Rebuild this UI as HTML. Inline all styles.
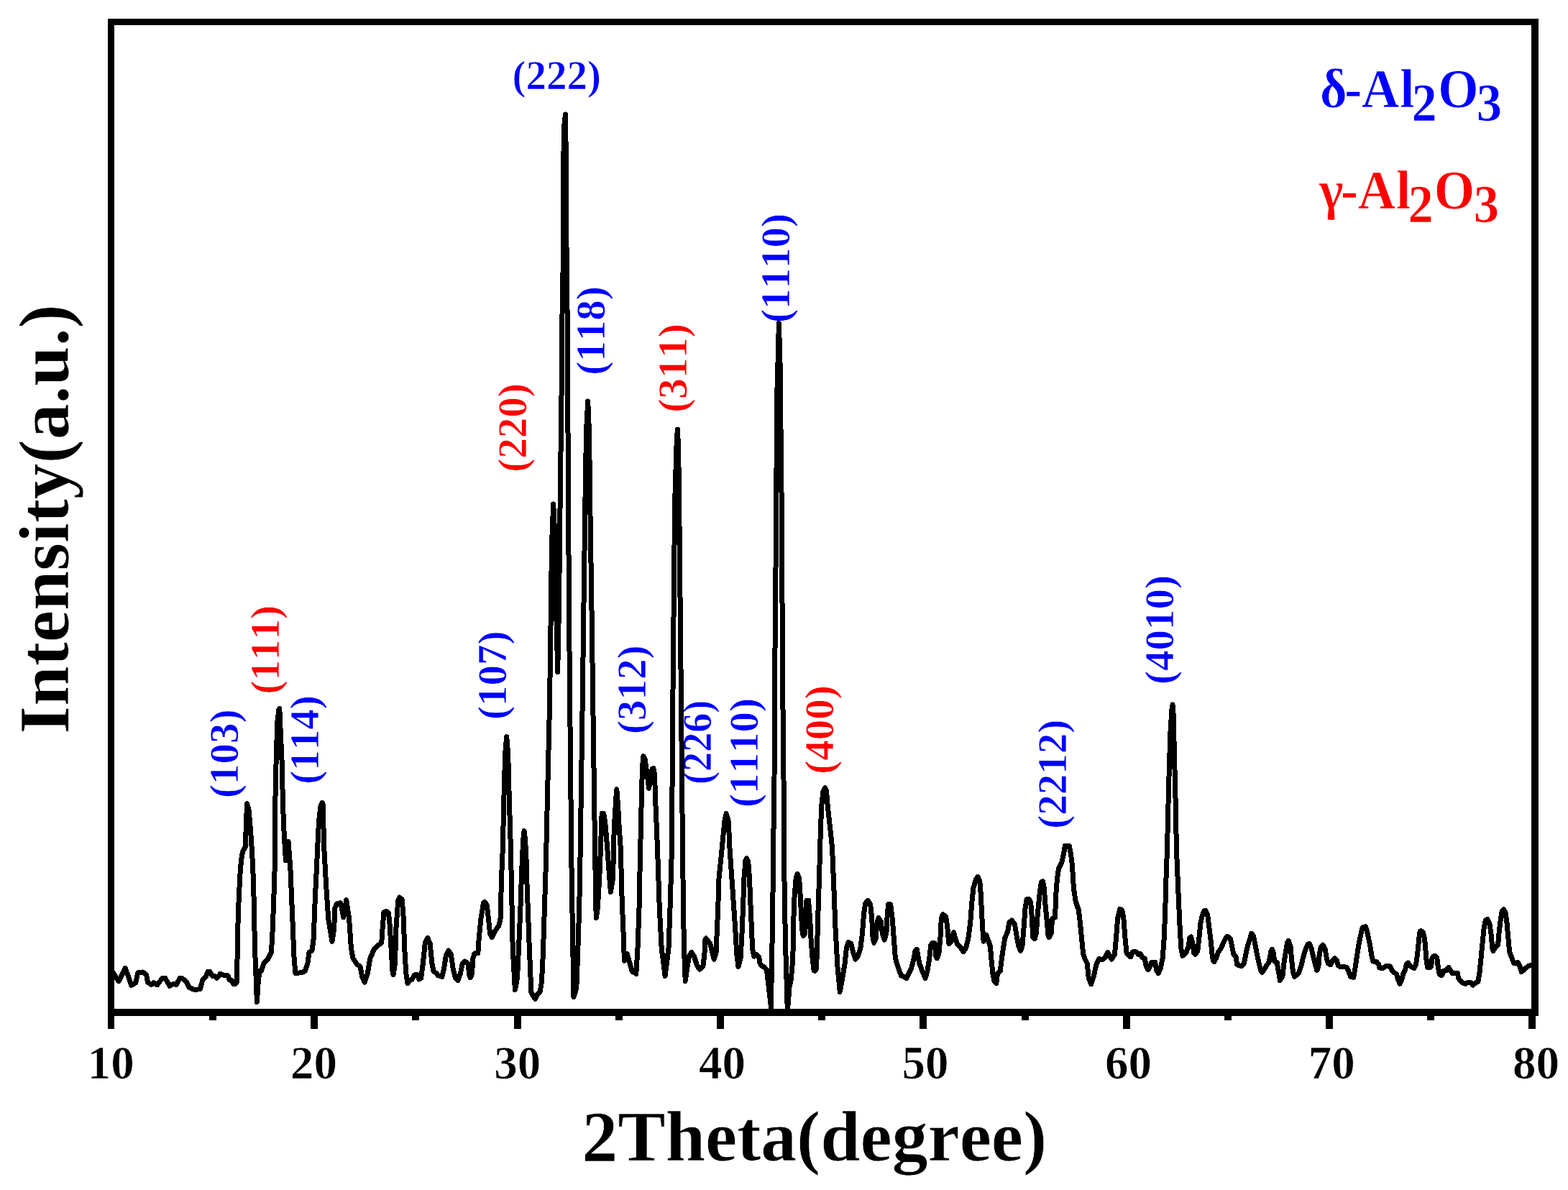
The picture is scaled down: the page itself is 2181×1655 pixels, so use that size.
<!DOCTYPE html>
<html lang="en">
<head>
<meta charset="utf-8">
<title>XRD pattern</title>
<style>
html,body{margin:0;padding:0;background:#fff;}
body{width:2181px;height:1655px;overflow:hidden;}
svg{display:block;}
text{font-family:"Liberation Serif","DejaVu Serif",serif;font-weight:bold;font-kerning:none;font-variant-ligatures:none;stroke:#fff;stroke-width:0.7px;stroke-linejoin:miter;}
.pk{font-size:57px;letter-spacing:0;}
.tk{font-size:65px;fill:#000;}
.ax{font-size:99.5px;fill:#000;}
.lg{font-size:75.5px;}
.sb{font-size:73.5px;}
</style>
</head>
<body>
<svg width="2181" height="1655" viewBox="0 0 2181 1655">
<rect x="0" y="0" width="2181" height="1655" fill="#fff"/>
<defs><clipPath id="plot"><rect x="150" y="26" width="1990" height="1387"/></clipPath></defs>
<g id="labels">
<text class="pk" fill="#0000ff" transform="translate(330.7,1110.0) rotate(-90)">(103)</text>
<text class="pk" fill="#ff0000" transform="translate(387.8,965.5) rotate(-90)">(111)</text>
<text class="pk" fill="#0000ff" transform="translate(442.5,1090.7) rotate(-90)">(114)</text>
<text class="pk" fill="#0000ff" transform="translate(704.0,1000.9) rotate(-90)">(107)</text>
<text class="pk" fill="#ff0000" transform="translate(731.9,656.8) rotate(-90)">(220)</text>
<text class="pk" fill="#0000ff" transform="translate(840.7,521.7) rotate(-90)">(118)</text>
<text class="pk" fill="#0000ff" transform="translate(897.5,1021.1) rotate(-90)">(312)</text>
<text class="pk" fill="#ff0000" transform="translate(954.7,573.8) rotate(-90)">(311)</text>
<text class="pk" fill="#0000ff" transform="translate(988.6,1090.9) rotate(-90) scale(0.949,1)">(226)</text>
<text class="pk" fill="#0000ff" transform="translate(1053.5,1122.9) rotate(-90)">(1110)</text>
<text class="pk" fill="#0000ff" transform="translate(1098.4,449.0) rotate(-90)">(1110)</text>
<text class="pk" fill="#ff0000" transform="translate(1158.7,1076.8) rotate(-90)">(400)</text>
<text class="pk" fill="#0000ff" transform="translate(1483.4,1152.8) rotate(-90)">(2212)</text>
<text class="pk" fill="#0000ff" transform="translate(1631.5,952.0) rotate(-90)">(4010)</text>
<text class="pk" fill="#0000ff" x="712.6" y="124.3">(222)</text>
</g>
<path id="xrd" clip-path="url(#plot)" d="M154.7,1348.8 L165.0,1364.7 L174.3,1346.2 L182.7,1370.4 L188.9,1366.5 L191.7,1352.7 L198.6,1352.0 L203.5,1355.4 L205.6,1366.5 L210.7,1369.4 L213.9,1366.6 L218.5,1369.7 L225.7,1360.6 L229.9,1360.6 L236.1,1371.3 L240.3,1368.6 L245.2,1369.4 L250.0,1360.6 L253.5,1360.6 L259.8,1366.2 L262.8,1373.1 L270.9,1376.6 L278.5,1375.5 L282.0,1362.3 L286.9,1357.2 L288.9,1351.6 L291.7,1351.3 L295.9,1357.9 L299.4,1357.9 L301.7,1360.4 L306.3,1354.4 L311.2,1356.2 L316.7,1356.5 L319.5,1363.1 L322.3,1363.4 L324.4,1368.3 L327.9,1368.3 L329.5,1364.8 L330.2,1323.1 L331.3,1270.3 L333.7,1218.9 L335.5,1196.7 L337.6,1184.2 L341.3,1177.5 L342.3,1148.5 L343.6,1117.5 L346.1,1127.0 L348.6,1156.0 L350.2,1180.0 L351.8,1207.8 L353.1,1249.5 L354.5,1318.9 L355.9,1353.7 L357.4,1393.6 L359.1,1367.6 L360.9,1350.6 L363.3,1350.6 L366.8,1339.8 L372.3,1334.2 L377.5,1323.8 L379.3,1291.2 L381.3,1235.6 L383.0,1180.0 L382.2,1148.5 L383.2,1097.8 L384.4,1047.0 L385.9,1003.5 L388.0,986.1 L388.8,985.4 L389.6,1003.5 L392.2,1061.5 L393.5,1119.5 L395.3,1163.0 L397.5,1197.0 L401.1,1170.6 L403.9,1207.8 L406.8,1277.3 L409.1,1332.8 L410.9,1353.7 L420.9,1352.3 L424.4,1350.2 L427.9,1339.8 L430.0,1324.5 L434.1,1321.7 L436.2,1305.1 L438.3,1249.5 L440.4,1207.8 L442.1,1170.3 L443.6,1141.3 L445.8,1122.4 L447.9,1116.6 L449.0,1117.4 L449.4,1134.0 L450.4,1163.0 L450.8,1180.0 L453.9,1235.6 L456.7,1277.3 L462.0,1309.2 L464.7,1291.2 L465.8,1263.4 L468.2,1257.1 L473.8,1255.7 L477.9,1275.9 L481.7,1251.6 L485.6,1277.3 L488.4,1318.9 L491.1,1332.8 L496.7,1341.2 L500.9,1344.0 L503.6,1357.9 L507.1,1366.2 L511.3,1353.7 L514.8,1332.8 L520.3,1320.3 L525.9,1314.8 L530.7,1311.3 L532.1,1291.2 L533.9,1268.9 L537.3,1267.3 L540.5,1269.6 L542.3,1288.4 L544.2,1321.7 L546.2,1353.7 L547.1,1355.8 L549.5,1339.8 L550.9,1291.2 L553.7,1252.3 L555.7,1248.1 L559.2,1250.9 L561.3,1277.3 L562.7,1318.9 L564.8,1353.7 L566.9,1367.6 L570.3,1363.4 L573.1,1362.0 L576.6,1355.8 L580.8,1355.8 L582.8,1362.0 L585.6,1360.6 L588.4,1339.8 L591.2,1312.0 L594.7,1304.4 L598.1,1312.0 L600.9,1339.8 L603.0,1350.9 L607.2,1353.7 L609.2,1356.5 L614.8,1358.5 L617.6,1346.7 L620.4,1328.7 L623.8,1322.0 L627.3,1327.3 L630.1,1346.7 L633.6,1360.6 L637.0,1363.4 L640.5,1353.7 L643.3,1339.8 L646.8,1337.0 L650.9,1339.8 L653.0,1356.5 L654.4,1359.7 L656.5,1353.7 L657.9,1332.8 L660.0,1325.9 L664.8,1325.9 L666.2,1305.1 L669.0,1277.3 L672.5,1255.7 L674.3,1254.3 L677.3,1259.2 L679.4,1277.3 L681.5,1298.1 L684.3,1303.7 L688.4,1295.3 L694.0,1287.0 L696.1,1277.3 L697.5,1221.7 L699.3,1180.0 L701.0,1106.7 L702.7,1048.0 L704.7,1024.6 L706.7,1048.0 L708.2,1106.7 L710.4,1180.0 L712.1,1263.4 L713.2,1319.0 L716.4,1376.6 L719.5,1360.6 L721.5,1319.0 L723.9,1263.4 L725.3,1221.7 L726.4,1195.0 L727.7,1168.0 L729.1,1155.6 L730.6,1168.0 L732.0,1195.0 L732.7,1221.7 L734.3,1263.4 L736.3,1319.0 L738.1,1360.6 L738.9,1380.0 L741.7,1385.6 L744.5,1389.1 L747.9,1382.2 L751.1,1379.4 L753.1,1367.6 L754.5,1346.7 L755.6,1319.0 L757.4,1263.4 L759.2,1207.8 L761.5,1106.7 L763.6,1018.7 L764.5,980.0 L765.9,879.4 L766.8,806.9 L767.7,752.5 L769.7,701.0 L771.3,734.4 L772.6,806.9 L774.4,879.4 L775.7,934.7 L777.5,843.0 L779.1,700.0 L781.4,520.0 L781.8,445.0 L782.9,400.0 L784.2,180.0 L786.5,159.0 L786.9,180.0 L788.4,400.0 L789.3,445.0 L789.6,520.0 L790.4,680.0 L791.6,861.0 L792.7,980.0 L794.9,1200.0 L795.9,1263.4 L796.8,1319.0 L798.0,1386.6 L801.8,1374.5 L803.9,1319.0 L805.7,1263.4 L806.9,1200.0 L810.3,970.0 L811.7,861.0 L813.2,752.5 L813.9,698.0 L815.5,600.0 L817.7,558.0 L819.5,600.0 L821.0,716.0 L823.2,861.0 L824.8,980.0 L827.7,1190.0 L828.5,1240.0 L829.2,1276.6 L831.3,1263.4 L833.7,1221.7 L835.5,1180.0 L836.4,1150.7 L837.2,1131.0 L839.2,1131.0 L840.7,1136.0 L842.4,1150.7 L844.8,1180.0 L847.3,1214.7 L849.4,1240.7 L852.6,1221.7 L853.5,1180.0 L854.3,1150.7 L856.1,1121.4 L857.5,1099.4 L857.8,1097.9 L859.7,1121.4 L861.2,1150.7 L863.3,1180.0 L865.1,1249.5 L867.4,1305.0 L868.4,1336.3 L872.3,1326.6 L879.2,1350.9 L884.8,1354.4 L887.0,1319.0 L889.0,1263.4 L890.1,1207.8 L891.4,1150.7 L892.7,1092.0 L893.9,1062.7 L894.9,1051.7 L897.1,1055.4 L900.1,1077.4 L902.7,1096.4 L905.2,1077.4 L907.4,1069.3 L908.9,1068.6 L910.6,1077.4 L911.4,1106.7 L913.3,1150.7 L914.5,1180.0 L917.3,1263.4 L920.2,1319.0 L925.1,1357.4 L930.0,1319.0 L932.0,1263.4 L933.7,1207.8 L934.4,1180.0 L936.0,960.0 L938.6,700.0 L941.0,620.0 L942.3,597.0 L943.6,620.0 L944.7,700.0 L947.3,960.0 L949.5,1180.0 L950.5,1263.4 L951.5,1319.0 L953.2,1364.4 L955.7,1346.7 L958.4,1330.0 L961.9,1324.5 L965.4,1330.0 L969.5,1342.6 L973.0,1348.1 L977.9,1344.0 L980.0,1325.9 L980.7,1307.8 L982.0,1305.0 L987.6,1312.0 L991.1,1325.9 L993.2,1334.2 L996.0,1325.9 L998.7,1263.4 L1000.0,1221.7 L1004.2,1180.0 L1006.0,1160.9 L1008.0,1140.7 L1010.1,1131.6 L1013.0,1140.7 L1014.2,1160.9 L1015.0,1180.0 L1018.9,1235.6 L1022.7,1291.2 L1024.7,1325.9 L1027.0,1344.4 L1030.0,1332.8 L1031.7,1305.1 L1033.5,1263.4 L1034.9,1221.7 L1037.0,1196.7 L1038.6,1193.5 L1040.7,1198.1 L1042.5,1221.7 L1044.2,1263.4 L1046.0,1305.1 L1047.0,1321.7 L1048.8,1330.1 L1052.3,1327.6 L1055.7,1331.5 L1057.1,1339.8 L1059.2,1343.3 L1063.4,1345.3 L1066.4,1348.8 L1068.6,1367.6 L1070.7,1385.6 L1072.5,1400.9 L1073.1,1360.6 L1073.9,1318.9 L1074.8,1263.4 L1075.6,1180.0 L1076.5,1120.5 L1077.0,1084.0 L1077.4,975.7 L1078.3,867.0 L1079.1,780.0 L1079.4,700.0 L1080.0,653.0 L1080.7,551.0 L1081.8,512.0 L1082.8,473.0 L1083.4,449.5 L1084.1,473.0 L1085.2,512.0 L1085.7,551.0 L1086.4,653.0 L1087.3,700.0 L1087.4,780.0 L1088.3,867.0 L1088.9,975.7 L1090.0,1084.0 L1090.5,1120.5 L1090.3,1180.0 L1091.6,1263.4 L1092.7,1318.9 L1094.4,1374.5 L1095.3,1405.1 L1096.6,1391.9 L1097.8,1374.0 L1100.3,1362.0 L1102.3,1339.8 L1103.2,1318.9 L1103.7,1299.5 L1103.9,1277.3 L1104.9,1249.5 L1107.1,1221.7 L1109.2,1215.4 L1111.7,1221.7 L1113.4,1249.5 L1114.8,1277.3 L1116.2,1298.1 L1117.6,1301.6 L1119.6,1298.1 L1121.0,1277.3 L1122.0,1252.3 L1124.5,1252.3 L1126.6,1277.3 L1128.0,1305.1 L1130.1,1332.8 L1132.1,1349.5 L1133.5,1350.6 L1135.6,1346.7 L1136.5,1318.9 L1138.1,1263.4 L1139.5,1221.7 L1140.6,1180.0 L1141.2,1160.9 L1142.7,1120.5 L1145.0,1100.3 L1147.6,1095.5 L1149.5,1100.3 L1151.2,1120.5 L1155.7,1160.9 L1157.6,1180.0 L1159.9,1235.6 L1162.0,1291.2 L1165.1,1346.7 L1168.3,1379.4 L1171.7,1360.6 L1175.2,1339.8 L1177.3,1318.9 L1180.1,1310.6 L1183.6,1312.0 L1187.0,1325.9 L1189.8,1334.2 L1193.3,1330.1 L1196.8,1318.9 L1199.5,1298.1 L1201.6,1270.3 L1203.7,1256.4 L1207.2,1252.3 L1210.7,1257.8 L1212.7,1277.3 L1214.1,1305.1 L1215.8,1311.3 L1218.3,1305.1 L1219.7,1284.2 L1222.0,1276.6 L1225.2,1281.4 L1227.3,1298.1 L1230.1,1307.1 L1232.9,1298.1 L1234.3,1270.3 L1235.7,1257.8 L1238.7,1257.8 L1241.2,1277.3 L1243.3,1305.1 L1245.4,1332.8 L1249.6,1346.7 L1253.7,1357.2 L1256.5,1357.9 L1260.7,1360.6 L1263.5,1355.1 L1267.6,1346.7 L1271.1,1332.8 L1273.2,1321.7 L1275.3,1320.3 L1278.8,1339.8 L1282.9,1350.9 L1287.1,1360.4 L1289.9,1350.9 L1292.7,1332.8 L1294.7,1314.8 L1296.8,1311.3 L1300.3,1312.0 L1301.7,1330.1 L1303.4,1332.8 L1305.9,1325.9 L1307.9,1305.1 L1309.3,1277.3 L1311.4,1271.7 L1315.6,1274.5 L1317.7,1288.4 L1319.1,1305.1 L1320.0,1312.7 L1323.2,1309.2 L1326.4,1296.7 L1328.8,1305.1 L1331.6,1313.4 L1335.7,1316.9 L1339.9,1323.8 L1343.4,1318.9 L1346.8,1305.1 L1349.6,1284.2 L1351.7,1256.4 L1353.8,1235.6 L1357.3,1223.1 L1360.3,1219.3 L1362.8,1225.9 L1364.2,1242.5 L1365.6,1270.3 L1366.7,1291.2 L1368.1,1309.2 L1371.9,1300.2 L1374.6,1307.8 L1377.4,1316.2 L1378.8,1332.8 L1380.9,1353.7 L1383.0,1364.8 L1385.7,1367.6 L1387.6,1353.7 L1391.3,1350.2 L1393.4,1332.8 L1395.5,1318.9 L1397.6,1305.1 L1401.7,1295.3 L1403.8,1282.8 L1407.3,1280.0 L1411.5,1285.6 L1414.2,1302.3 L1417.0,1316.2 L1419.5,1322.4 L1421.9,1316.2 L1424.0,1291.2 L1426.0,1263.4 L1428.1,1250.9 L1430.9,1250.2 L1433.7,1255.0 L1435.4,1277.3 L1436.7,1303.7 L1439.2,1305.7 L1441.3,1298.1 L1443.4,1270.3 L1446.2,1242.5 L1448.3,1227.2 L1450.4,1225.6 L1452.4,1235.6 L1453.8,1256.4 L1455.9,1277.3 L1458.0,1300.9 L1459.1,1303.7 L1462.2,1298.1 L1463.6,1277.3 L1467.7,1275.9 L1468.4,1249.5 L1470.5,1221.7 L1472.6,1207.8 L1476.8,1199.5 L1479.3,1188.3 L1479.8,1186.0 L1481.4,1176.2 L1487.3,1176.6 L1489.5,1188.0 L1491.4,1202.7 L1493.4,1235.6 L1496.2,1253.6 L1500.4,1266.1 L1502.5,1284.2 L1504.5,1305.1 L1506.6,1325.9 L1508.7,1332.8 L1512.2,1339.8 L1514.3,1360.6 L1517.7,1368.7 L1521.2,1357.9 L1525.4,1339.8 L1528.9,1333.5 L1533.0,1334.9 L1537.2,1331.5 L1540.7,1324.5 L1543.5,1330.1 L1546.2,1334.2 L1550.4,1327.3 L1552.5,1305.1 L1554.6,1277.3 L1557.8,1264.3 L1560.8,1266.1 L1562.9,1277.3 L1565.0,1305.1 L1567.1,1325.9 L1569.9,1328.7 L1572.7,1330.8 L1575.4,1323.8 L1580.3,1323.8 L1583.1,1327.3 L1586.5,1326.6 L1588.6,1331.5 L1592.1,1332.8 L1594.2,1344.0 L1597.0,1348.8 L1599.7,1344.0 L1601.8,1338.4 L1606.7,1338.4 L1608.8,1349.5 L1611.1,1353.7 L1614.3,1346.7 L1617.1,1332.8 L1619.2,1305.1 L1620.6,1270.3 L1622.0,1221.7 L1623.5,1180.0 L1625.5,1097.1 L1627.9,1018.6 L1629.9,987.1 L1631.0,980.0 L1631.9,987.1 L1633.5,1050.0 L1635.1,1112.8 L1636.4,1180.0 L1638.7,1235.6 L1641.2,1291.2 L1642.8,1318.9 L1644.9,1329.4 L1649.8,1324.5 L1653.2,1316.2 L1654.6,1305.1 L1656.7,1303.0 L1658.8,1312.0 L1660.9,1325.9 L1662.3,1327.3 L1665.7,1323.1 L1667.8,1305.1 L1669.9,1284.2 L1672.0,1274.5 L1674.8,1266.8 L1676.9,1266.1 L1679.6,1271.7 L1681.7,1288.4 L1683.8,1305.1 L1685.9,1325.9 L1687.3,1336.3 L1688.7,1337.7 L1691.5,1332.8 L1694.2,1324.5 L1698.4,1318.9 L1701.9,1310.6 L1704.7,1305.1 L1707.4,1302.3 L1711.6,1306.4 L1713.7,1316.2 L1715.8,1327.3 L1719.2,1330.8 L1720.6,1341.2 L1723.4,1342.6 L1726.9,1344.0 L1730.4,1339.8 L1733.1,1325.9 L1735.9,1313.4 L1738.7,1305.1 L1740.8,1298.1 L1743.6,1302.3 L1745.6,1312.0 L1748.4,1327.3 L1751.2,1339.8 L1754.0,1350.9 L1755.4,1352.3 L1759.5,1346.7 L1762.3,1341.9 L1765.1,1338.4 L1767.9,1323.1 L1769.5,1320.3 L1771.3,1325.9 L1772.7,1337.0 L1776.2,1338.4 L1778.3,1350.9 L1780.4,1363.4 L1783.9,1357.9 L1785.9,1339.8 L1788.7,1321.7 L1790.8,1310.6 L1792.2,1308.5 L1795.0,1316.2 L1796.4,1332.8 L1798.4,1350.9 L1800.5,1358.3 L1806.1,1353.7 L1809.6,1344.0 L1813.0,1330.1 L1816.5,1318.9 L1819.3,1313.4 L1821.4,1312.4 L1824.1,1318.9 L1826.9,1331.5 L1829.7,1342.6 L1831.8,1349.5 L1833.9,1344.0 L1835.3,1325.9 L1837.3,1317.6 L1840.0,1314.1 L1843.2,1320.3 L1845.3,1332.8 L1847.4,1339.8 L1850.8,1341.9 L1853.6,1335.6 L1856.4,1332.6 L1859.2,1335.6 L1861.3,1342.6 L1864.0,1344.7 L1870.3,1344.7 L1873.1,1345.3 L1875.9,1350.9 L1878.6,1358.5 L1882.8,1359.2 L1884.9,1346.7 L1887.0,1332.8 L1889.1,1318.9 L1891.1,1307.8 L1893.2,1298.1 L1895.3,1289.8 L1899.5,1288.7 L1901.6,1295.3 L1903.6,1305.1 L1905.7,1314.8 L1907.8,1328.7 L1909.9,1337.0 L1914.8,1337.7 L1917.5,1341.2 L1918.9,1346.0 L1924.5,1346.0 L1928.0,1343.3 L1933.5,1344.0 L1936.3,1349.5 L1939.8,1353.0 L1942.5,1355.1 L1944.6,1362.0 L1947.1,1368.3 L1949.5,1363.4 L1951.6,1355.1 L1954.4,1349.5 L1956.4,1341.2 L1958.5,1339.1 L1961.3,1342.6 L1964.1,1345.3 L1966.9,1346.5 L1969.6,1341.2 L1971.7,1325.9 L1973.8,1305.1 L1975.2,1295.3 L1976.6,1294.6 L1979.4,1296.7 L1981.5,1305.1 L1982.8,1318.9 L1984.2,1337.0 L1985.6,1345.3 L1987.7,1346.0 L1990.5,1344.7 L1991.9,1332.8 L1994.0,1329.8 L1996.7,1329.8 L1998.8,1332.1 L2000.2,1344.0 L2002.3,1355.1 L2005.1,1356.5 L2008.5,1350.2 L2012.0,1349.5 L2014.8,1345.3 L2017.6,1349.5 L2020.4,1353.7 L2023.1,1353.0 L2027.3,1353.0 L2028.7,1360.6 L2031.5,1364.1 L2035.6,1367.6 L2038.4,1368.3 L2041.9,1366.2 L2046.1,1366.9 L2048.8,1370.1 L2052.3,1366.9 L2055.8,1365.5 L2057.9,1353.7 L2060.0,1332.8 L2062.0,1312.0 L2064.1,1291.2 L2066.2,1280.0 L2069.0,1278.4 L2071.8,1284.2 L2073.9,1298.1 L2075.9,1318.9 L2077.0,1322.4 L2080.1,1317.6 L2083.6,1314.1 L2085.0,1298.1 L2087.1,1280.0 L2089.1,1267.5 L2091.5,1264.8 L2094.0,1268.9 L2096.1,1284.2 L2097.9,1305.1 L2099.6,1323.1 L2103.0,1332.8 L2105.8,1339.8 L2108.6,1340.1 L2111.4,1338.4 L2114.1,1344.0 L2116.2,1351.6 L2120.4,1348.1 L2126.0,1343.3 L2131.0,1341.9" fill="none" stroke="#000" stroke-width="7" stroke-linejoin="round" stroke-linecap="round" shape-rendering="crispEdges"/>
<g id="frame" fill="#000" shape-rendering="crispEdges">
<rect x="150" y="26" width="9" height="1387"/>
<rect x="2130" y="26" width="10" height="1387"/>
<rect x="150" y="26" width="1990" height="9"/>
<rect x="150" y="1403" width="1990" height="10"/>
</g>
<g id="ticks" shape-rendering="crispEdges">
<rect x="150" y="1408" width="9" height="23" fill="#000"/>
<text class="tk" x="154.2" y="1500.3" text-anchor="middle">10</text>
<rect x="432" y="1408" width="10" height="23" fill="#000"/>
<text class="tk" x="436.6" y="1500.3" text-anchor="middle">20</text>
<rect x="715" y="1408" width="10" height="23" fill="#000"/>
<text class="tk" x="719.7" y="1500.3" text-anchor="middle">30</text>
<rect x="997" y="1408" width="10" height="23" fill="#000"/>
<text class="tk" x="1004.4" y="1500.3" text-anchor="middle">40</text>
<rect x="1279" y="1408" width="10" height="23" fill="#000"/>
<text class="tk" x="1287.1" y="1500.3" text-anchor="middle">50</text>
<rect x="1562" y="1408" width="10" height="23" fill="#000"/>
<text class="tk" x="1569.5" y="1500.3" text-anchor="middle">60</text>
<rect x="1844" y="1408" width="10" height="23" fill="#000"/>
<text class="tk" x="1852.2" y="1500.3" text-anchor="middle">70</text>
<rect x="2126" y="1408" width="10" height="23" fill="#000"/>
<text class="tk" x="2136.5" y="1500.3" text-anchor="middle">80</text>
<rect x="291" y="1408" width="10" height="11" fill="#000"/>
<rect x="573" y="1408" width="10" height="11" fill="#000"/>
<rect x="856" y="1408" width="10" height="11" fill="#000"/>
<rect x="1138" y="1408" width="10" height="11" fill="#000"/>
<rect x="1421" y="1408" width="10" height="11" fill="#000"/>
<rect x="1703" y="1408" width="10" height="11" fill="#000"/>
<rect x="1985" y="1408" width="10" height="11" fill="#000"/>
</g>
<g id="legend">
<text class="lg" fill="#0000ff" transform="scale(0.96,1)" y="149.2"><tspan x="1912.4 1948.1 1972.9 2028.3">δ-Al</tspan><tspan class="sb" x="2045.4" y="168.2">2</tspan><tspan x="2083.6" y="149.2">O</tspan><tspan class="sb" x="2139.4" y="168.2">3</tspan></text>
<text class="lg" fill="#ff0000" transform="scale(0.96,1)" y="290.3"><tspan x="1911.2 1942.4 1967.5 2022.9">γ-Al</tspan><tspan class="sb" x="2040.0" y="309.3">2</tspan><tspan x="2077.9" y="290.3">O</tspan><tspan class="sb" x="2135.3" y="309.3">3</tspan></text>
</g>
<text class="ax" x="809.6" y="1614.2">2Theta(degree)</text>
<text class="ax" transform="translate(95.2,1020.4) rotate(-90)">Intensity(a.u.)</text>
</svg>
</body>
</html>
